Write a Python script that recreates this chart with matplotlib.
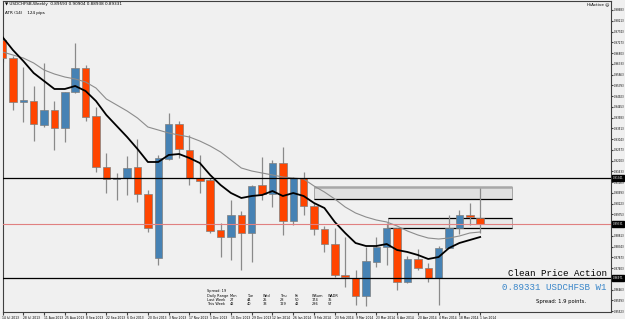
import numpy as np
import matplotlib.pyplot as plt
from matplotlib.patches import Rectangle

W, H = 625, 319

# weekly USDCHFSB candles, 14 Jul 2013 .. 1 Jun 2014
opens = [0.97372, 0.96585, 0.94662, 0.94706, 0.93657, 0.94313, 0.93526, 0.95100, 0.96148, 0.94051,
         0.91822, 0.91298, 0.91341, 0.91822, 0.90642, 0.87845, 0.92172, 0.93701, 0.92565, 0.91341,
         0.91254, 0.89069, 0.88763, 0.89725, 0.88938, 0.91036, 0.90642, 0.91997, 0.89462, 0.91341,
         0.90118, 0.89113, 0.88457, 0.87103, 0.86971, 0.86185, 0.87671, 0.88326, 0.89156, 0.86797,
         0.87802, 0.87408, 0.86971, 0.88282, 0.89156, 0.89725, 0.89593]
highs = [0.97459, 0.96673, 0.96192, 0.95362, 0.96367, 0.94706, 0.95100, 0.97241, 0.96280, 0.94444,
         0.92434, 0.91560, 0.92303, 0.93046, 0.90817, 0.92347, 0.94182, 0.93832, 0.93221, 0.92347,
         0.91341, 0.89375, 0.90380, 0.89899, 0.91036, 0.92259, 0.92128, 0.92696, 0.91385, 0.91604,
         0.90249, 0.89244, 0.89156, 0.88763, 0.87321, 0.88326, 0.88763, 0.89375, 0.89156, 0.87933,
         0.88239, 0.87627, 0.88370, 0.89725, 0.89943, 0.90249, 0.90904]
lows = [0.96410, 0.94313, 0.93789, 0.92958, 0.93570, 0.92565, 0.92915, 0.95056, 0.93832, 0.91604,
        0.90686, 0.90380, 0.90599, 0.90293, 0.88982, 0.87540, 0.92128, 0.92215, 0.91036, 0.90686,
        0.88938, 0.87889, 0.87758, 0.87321, 0.87671, 0.90380, 0.90074, 0.88851, 0.89288, 0.89725,
        0.88851, 0.88108, 0.87015, 0.86578, 0.85792, 0.85748, 0.87452, 0.87540, 0.86447, 0.86753,
        0.87321, 0.86797, 0.85792, 0.88282, 0.88894, 0.89288, 0.88938]
closes = [0.96585, 0.94662, 0.94750, 0.93701, 0.94313, 0.93526, 0.95100, 0.96148, 0.94007, 0.91822,
          0.91298, 0.91341, 0.91778, 0.90642, 0.89156, 0.92215, 0.93701, 0.92609, 0.91341, 0.91210,
          0.89025, 0.88763, 0.89725, 0.88938, 0.90992, 0.90642, 0.91997, 0.89462, 0.91341, 0.90118,
          0.89113, 0.88457, 0.87103, 0.87015, 0.86185, 0.87714, 0.88326, 0.89156, 0.86797, 0.87802,
          0.87408, 0.86971, 0.88282, 0.89156, 0.89725, 0.89637, 0.89331]

ma_fast = [0.97503, 0.96935, 0.96454, 0.95930, 0.95580, 0.95231, 0.95231, 0.95362, 0.95143, 0.94706,
           0.94095, 0.93614, 0.93133, 0.92609, 0.92041, 0.92041, 0.92347, 0.92390, 0.92215, 0.91997,
           0.91473, 0.91036, 0.90686, 0.90467, 0.90555, 0.90599, 0.90773, 0.90555, 0.90686, 0.90555,
           0.90249, 0.90030, 0.89419, 0.88938, 0.88501, 0.88370, 0.88370, 0.88457, 0.88195, 0.88108,
           0.87977, 0.87802, 0.87889, 0.88282, 0.88501, 0.88632, 0.88763]
ma_slow = [0.96848, 0.96717, 0.96585, 0.96367, 0.96061, 0.95886, 0.95755, 0.95668, 0.95537, 0.95274,
           0.94794, 0.94532, 0.94269, 0.93963, 0.93570, 0.93439, 0.93308, 0.93221, 0.93133, 0.92958,
           0.92740, 0.92478, 0.92128, 0.91778, 0.91647, 0.91560, 0.91473, 0.91385, 0.91341, 0.91298,
           0.90992, 0.90730, 0.90424, 0.90074, 0.89812, 0.89637, 0.89506, 0.89419, 0.89244, 0.89025,
           0.88851, 0.88719, 0.88676, 0.88719, 0.88807, 0.88938, 0.88982]

date_labels = ["14 Jul 2013", "28 Jul 2013", "11 Aug 2013", "25 Aug 2013", "8 Sep 2013", "22 Sep 2013",
               "6 Oct 2013", "20 Oct 2013", "3 Nov 2013", "17 Nov 2013", "1 Dec 2013", "15 Dec 2013",
               "29 Dec 2013", "12 Jan 2014", "26 Jan 2014", "9 Feb 2014", "23 Feb 2014", "9 Mar 2014",
               "23 Mar 2014", "6 Apr 2014", "20 Apr 2014", "4 May 2014", "18 May 2014", "1 Jun 2014"]
price_ticks = [0.98683, 0.98213, 0.97743, 0.97273, 0.96803, 0.96333, 0.95863, 0.95393, 0.94923, 0.94453,
               0.93983, 0.93513, 0.93043, 0.92573, 0.92103, 0.91633, 0.91163, 0.90693, 0.90223, 0.89753,
               0.88813, 0.88343, 0.87873, 0.87403, 0.86463, 0.85993, 0.85523]

level_hi = 0.91341
level_lo = 0.86971
bid = 0.89331
# zones: start bar, end bar, low, high
zone_top = (30.0, 49.1, 0.90424, 0.90948)
zone_bid = (37.1, 49.1, 0.89156, 0.89593)

daily_cols = ["Mon", "Tue", "Wed", "Thu", "Fri", "WSum", "WADR"]
last_week = [27, 44, 25, 28, 50, 174, 35]
this_week = [42, 40, 33, 129, 42, 286, 57]

BG = '#f0f0f0'
fig = plt.figure(figsize=(6.25, 3.19), dpi=100, facecolor=BG)
ax = fig.add_axes([2.5 / W, 7 / H, (611 - 2.5) / W, 311 / H], facecolor=BG)
ax.set_xlim(0.087, 58.6)
ax.set_ylim(0.85486, 0.99076)

x = np.arange(len(opens))
o = np.array(opens); c = np.array(closes)
cols = np.where(c >= o, '#4682b4', '#ff4500')

# zones
for (x0, x1, lo, hi), fill in [(zone_top, '#e0e0e0'), (zone_bid, '#e8e8e8')]:
    ax.add_patch(Rectangle((x0, lo), x1 - x0, hi - lo, facecolor=fill, edgecolor='#9a9a9a', lw=0.6, zorder=1))
ax.hlines(zone_top[3], zone_top[0], zone_top[1], color='#a8a8a8', lw=1.8, zorder=1.5)
ax.hlines(zone_top[2], zone_top[0], zone_top[1], color='black', lw=0.9, zorder=1.5)
ax.hlines([zone_bid[2], zone_bid[3]], zone_bid[0], zone_bid[1], color='black', lw=0.9, zorder=1.5)

ax.vlines(x, lows, highs, color='#8a8a8a', lw=0.9, zorder=2)
ax.bar(x, np.abs(c - o), bottom=np.minimum(o, c), width=0.72, color=cols,
       edgecolor='#7f7f7f', linewidth=0.5, zorder=3)

ax.plot(x, ma_slow, color='#8c8c8c', lw=0.8, zorder=4)
ax.plot(x, ma_fast, color='black', lw=1.3, zorder=5)

ax.axhline(level_hi, color='black', lw=0.9, zorder=6)
ax.axhline(level_lo, color='black', lw=0.9, zorder=6)
ax.axhline(bid, color='#e08080', lw=0.8, zorder=6)

for s in ax.spines.values():
    s.set_color('#404040')
    s.set_linewidth(0.8)

ax.set_xticks(np.arange(0, len(opens), 2))
ax.set_xticklabels(date_labels, fontsize=2.2, ha='left')
ax.tick_params(axis='x', length=2, pad=1, color='#404040')
ax.yaxis.tick_right()
ax.set_yticks(price_ticks)
ax.set_yticklabels([f"{p:.5f}" for p in price_ticks], fontsize=1.9)
ax.tick_params(axis='y', length=1.5, pad=0.5, color='#404040')

for p in [level_hi, bid, level_lo]:
    ax.text(1.003, p, f"{p:.5f}", transform=ax.get_yaxis_transform(), fontsize=1.9, color='white',
            va='center', ha='left', clip_on=False, zorder=10,
            bbox=dict(boxstyle='square,pad=0.25', fc='black', ec='black'))


def ftext(px, py, s, **kw):
    fig.text(px / W, 1 - py / H, s, **kw)


ftext(5, 4, "\u25bc USDCHFSB,Weekly  0.89593 0.90904 0.88938 0.89331", fontsize=3, va='center')
ftext(5, 13, "ATR (14)    124 pips", fontsize=3, va='center')
ftext(609, 4, "HiActive \u263a", fontsize=3, va='center', ha='right')

ftext(607, 273, "Clean Price Action", fontsize=6.6, family='Liberation Mono', va='center', ha='right')
ftext(607, 288, f"{bid:.5f} USDCHFSB W1", fontsize=6.6, family='Liberation Mono', color='#3a86c9',
      va='center', ha='right')
ftext(561, 302, "Spread: 1.9 points.", fontsize=3.8, va='center', ha='center')

col_x = [230, 247, 263, 280, 295, 312, 328]
ftext(207, 291, "Spread: 19", fontsize=2.5, va='center')
ftext(207, 296, "Daily Range", fontsize=2.5, va='center')
ftext(207, 300, "Last Week", fontsize=2.5, va='center')
ftext(207, 304, "This Week", fontsize=2.5, va='center')
for cx, name, lw_, tw in zip(col_x, daily_cols, last_week, this_week):
    ftext(cx, 296, name, fontsize=2.5, va='center')
    ftext(cx, 300, str(lw_), fontsize=2.5, va='center')
    ftext(cx, 304, str(tw), fontsize=2.5, va='center')

fig.savefig("out.png", dpi=100, facecolor=BG)
